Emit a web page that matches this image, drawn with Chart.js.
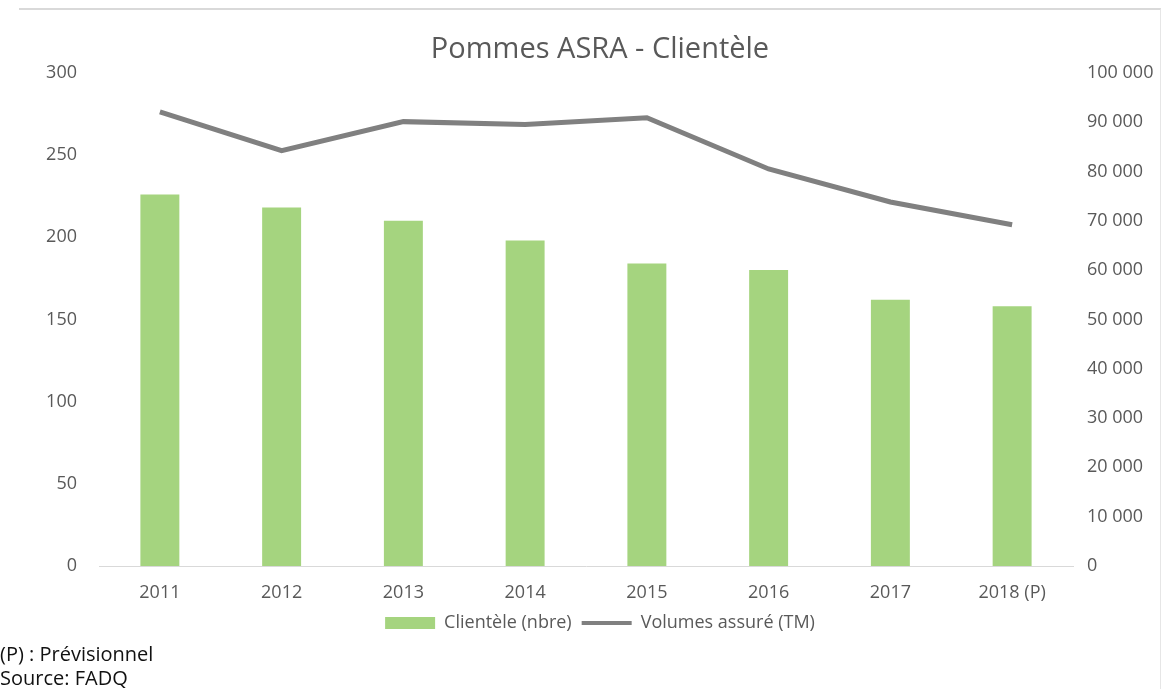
<!DOCTYPE html>
<html>
<head>
<meta charset="utf-8">
<script src="https://cdn.jsdelivr.net/npm/chart.js@4/dist/chart.umd.min.js"></script>
<style>
  body { margin: 0; background: #fff; font-family: 'Open Sans', sans-serif; overflow: hidden; }
  #frame { position: absolute; left: 19px; top: 8px; width: 1141px; height: 700px;
           border-top: 2px solid #d9d9d9; border-right: 1px solid #e6e6e6; }
  #wrap { position: absolute; left: 19px; top: 0; width: 1162px; height: 650px; }
  .note { position: absolute; left: 0; font-size: 20px; color: #111; }
</style>
</head>
<body>
<div id="frame"></div>
<div id="wrap"><canvas id="pommes-chart"></canvas></div>
<div class="note" style="top:640px">(P) : Prévisionnel</div>
<div class="note" style="top:664px">Source: FADQ</div>
<script>
var years = ['2011', '2012', '2013', '2014', '2015', '2016', '2017', '2018 (P)'];
var clientele = [226, 218, 210, 198, 184, 180, 162, 158];
var volumes = [92100, 84200, 90100, 89500, 90900, 80500, 73800, 69200];
var left_ticks = [0, 50, 100, 150, 200, 250, 300];
var right_ticks = [0, 10000, 20000, 30000, 40000, 50000, 60000, 70000, 80000, 90000, 100000];

function FormatThousands(v) {
    return String(v).replace(/\B(?=(\d{3})+(?!\d))/g, ' ');
}

var tick_font = { family: 'Open Sans', size: 18 };

var ctx = document.getElementById('pommes-chart');
var PommesChart = new Chart(ctx, {
    data: {
        labels: years,
        datasets: [{
            type: 'bar',
            label: 'Clientèle (nbre)',
            data: clientele,
            backgroundColor: '#a5d47f',
            borderWidth: 0,
            barPercentage: 0.32,
            categoryPercentage: 1,
            yAxisID: 'y',
            order: 2
        }, {
            type: 'line',
            label: 'Volumes assuré (TM)',
            data: volumes,
            borderColor: '#808080',
            backgroundColor: '#808080',
            borderWidth: 5,
            pointRadius: 0,
            tension: 0,
            yAxisID: 'y1',
            order: 1
        }]
    },
    options: {
        responsive: true,
        maintainAspectRatio: false,
        animation: false,
        layout: { padding: { left: 0, right: 0, top: 0, bottom: 8 } },
        plugins: {
            title: {
                display: true,
                text: 'Pommes ASRA - Clientèle',
                color: '#595959',
                font: { family: 'Open Sans', size: 29, weight: 'normal' },
                padding: { top: 32, bottom: 6 }
            },
            legend: {
                position: 'bottom',
                labels: {
                    color: '#595959',
                    font: { family: 'Open Sans', size: 18 },
                    usePointStyle: true,
                    pointStyleWidth: 50,
                    boxHeight: 12,
                    padding: 10,
                    sort: function (a, b) { return a.datasetIndex - b.datasetIndex; },
                    generateLabels: function (chart) {
                        var items = Chart.defaults.plugins.legend.labels.generateLabels(chart);
                        items.forEach(function (item) {
                            item.pointStyle = item.datasetIndex === 0 ? 'rect' : 'line';
                            item.lineWidth = item.datasetIndex === 0 ? 0 : 4;
                        });
                        return items;
                    }
                }
            },
            tooltip: { enabled: false }
        },
        scales: {
            x: {
                afterFit: function (axis) { axis.height = 38; },
                grid: { display: false },
                border: { color: '#d9d9d9', width: 1 },
                ticks: { color: '#595959', font: tick_font, padding: 8 }
            },
            y: {
                position: 'left',
                min: 0,
                max: 300,
                afterBuildTicks: function (axis) {
                    axis.ticks = left_ticks.map(function (v) { return { value: v }; });
                },
                afterFit: function (axis) { axis.width = 80; },
                grid: { display: false, drawTicks: false },
                border: { display: false },
                ticks: { color: '#595959', font: tick_font, padding: 22 }
            },
            y1: {
                position: 'right',
                min: 0,
                max: 100000,
                afterBuildTicks: function (axis) {
                    axis.ticks = right_ticks.map(function (v) { return { value: v }; });
                },
                afterFit: function (axis) { axis.width = 108; },
                grid: { display: false, drawTicks: false },
                border: { display: false },
                ticks: {
                    color: '#595959',
                    font: tick_font,
                    padding: 14,
                    callback: function (v) { return FormatThousands(v); }
                }
            }
        }
    }
});
</script>
</body>
</html>
